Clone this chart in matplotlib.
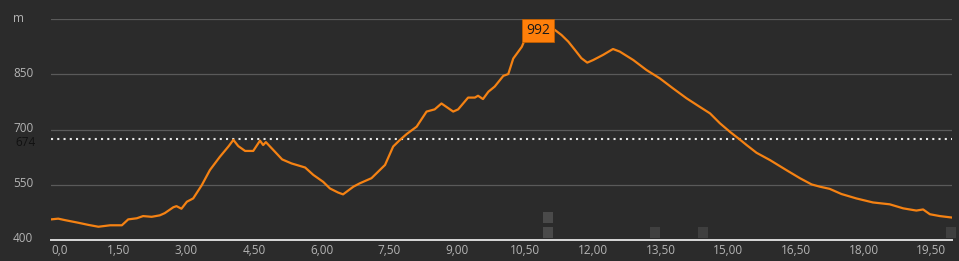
import matplotlib
matplotlib.use("Agg")
import matplotlib.pyplot as plt
from matplotlib.transforms import blended_transform_factory
from matplotlib.patches import Rectangle

# ---- data (distance in km, elevation in m) ----
dist_km = [0.00, 0.16, 0.31, 0.60, 0.83, 1.05, 1.31, 1.57, 1.71, 1.90, 2.04, 2.23, 2.41, 2.52,
           2.71, 2.78, 2.89, 3.01, 3.15, 3.34, 3.52, 3.74, 3.93, 4.04, 4.15, 4.30, 4.48, 4.63,
           4.70, 4.76, 4.96, 5.12, 5.33, 5.63, 5.81, 6.03, 6.18, 6.36, 6.47, 6.70, 6.84, 7.10,
           7.25, 7.40, 7.58, 7.73, 7.88, 8.10, 8.32, 8.50, 8.65, 8.91, 9.02, 9.24, 9.39, 9.46,
           9.57, 9.69, 9.83, 10.02, 10.13, 10.24, 10.43, 10.54, 10.72, 10.87, 11.00, 11.16,
           11.31, 11.46, 11.61, 11.75, 11.88, 12.01, 12.23, 12.45, 12.60, 12.90, 13.19, 13.49,
           13.78, 14.08, 14.37, 14.60, 14.82, 15.04, 15.27, 15.41, 15.63, 15.93, 16.29, 16.59,
           16.85, 17.03, 17.25, 17.51, 17.84, 18.21, 18.58, 18.88, 19.17, 19.32, 19.47, 19.69,
           19.96]
elev_m = [456, 458, 454, 447, 441, 436, 440, 440, 456, 459, 465, 463, 467, 473,
          489, 492, 485, 504, 513, 549, 590, 626, 654, 672, 655, 642, 642, 670,
          658, 666, 640, 619, 608, 597, 577, 558, 540, 529, 524, 545, 554, 568,
          586, 604, 654, 672, 688, 708, 749, 755, 771, 749, 755, 787, 787, 792,
          783, 803, 817, 846, 851, 893, 925, 957, 984, 992, 984, 971,
          957, 939, 916, 894, 882, 889, 903, 919, 912, 889, 862, 839,
          812, 785, 762, 744, 717, 694, 672, 658, 637, 617, 590, 568,
          551, 545, 539, 525, 513, 502, 497, 486, 480, 483, 470, 465,
          461]

y_ticks = [400, 550, 700, 850]
y_top = 1000
x_ticks = [0.0, 1.5, 3.0, 4.5, 6.0, 7.5, 9.0, 10.5, 12.0, 13.5, 15.0, 16.5, 18.0, 19.5]
x_labels = ["0,0", "1,50", "3,00", "4,50", "6,00", "7,50", "9,00", "10,50", "12,00",
            "13,50", "15,00", "16,50", "18,00", "19,50"]
ref_level = 674
peak_value = 992
peak_km = 10.87
poi_km = [11.02, 11.02, 13.39, 14.44, 19.93]
poi_row = [1, 0, 0, 0, 0]

# ---- style ----
BG = "#2b2b2b"
LINE = "#f58213"
GRID = "#5a5a5a"
TXT = "#b4b4b4"
plt.rcParams['font.family'] = ['Open Sans', 'DejaVu Sans']

fig = plt.figure(figsize=(9.59, 2.61), dpi=100, facecolor=BG)
ax = fig.add_axes([51/959, 21/261, 901/959, 220.8/261])
ax.set_facecolor(BG)
ax.set_xlim(0, dist_km[-1])
ax.set_ylim(400, y_top)
for s in ax.spines.values():
    s.set_visible(False)
ax.set_xticks([])
ax.set_yticks([])

# grid lines
for v in y_ticks[1:] + [y_top]:
    ax.axhline(v, color=GRID, lw=0.9, zorder=1)
ax.axhline(400, color="#d8d8d8", lw=1.4, zorder=4, clip_on=False)

# reference dotted line
ax.axhline(ref_level, color="#e8e8e8", lw=1.5, linestyle=(0, (1, 2)), zorder=2)

# POI squares
tb = blended_transform_factory(ax.transData, ax.transAxes)
for k, r in zip(poi_km, poi_row):
    yy = 0.008 + r * 0.07
    col = "#4a4a4a" if k == 11.02 else "#3f3f3f"
    ax.add_patch(Rectangle((k - 5/45.15, yy), 10/45.15, 11/220.8, transform=tb,
                           facecolor=col, edgecolor="none", zorder=1.5, clip_on=False))

# elevation line
ax.plot(dist_km, elev_m, color=LINE, lw=1.6, zorder=3, solid_joinstyle="round")

# y labels
ty = blended_transform_factory(fig.transFigure, ax.transData)
for v in y_ticks:
    ax.text(13/959, v + 3, str(v), transform=ty, ha="left", va="center",
            color=TXT, fontsize=8.5)
ax.text(13/959, y_top + 3, "m", transform=ty, ha="left", va="center",
        color=TXT, fontsize=8.5)
ax.text(36/959, ref_level - 8, str(ref_level), transform=ty, ha="right", va="center",
        color="#111111", fontsize=8.5)

# x labels
tx = blended_transform_factory(ax.transData, fig.transFigure)
for v, lab in zip(x_ticks, x_labels):
    if v == 0:
        ax.text(v, 1 - 250/261, lab, transform=tx, ha="left", va="center",
                color=TXT, fontsize=8.5)
    else:
        ax.text(v, 1 - 250/261, lab, transform=tx, ha="center", va="center",
                color=TXT, fontsize=8.5)

# peak label
ax.text(peak_km - 0.08, peak_value - 23, str(peak_value), ha="center", va="center",
        color="#1a1a1a", fontsize=10, zorder=6,
        bbox=dict(boxstyle="square,pad=0.3", facecolor="#ff7f0a", edgecolor="#c05e00", lw=0.6))

fig.savefig("out.png", dpi=100, facecolor=BG)
